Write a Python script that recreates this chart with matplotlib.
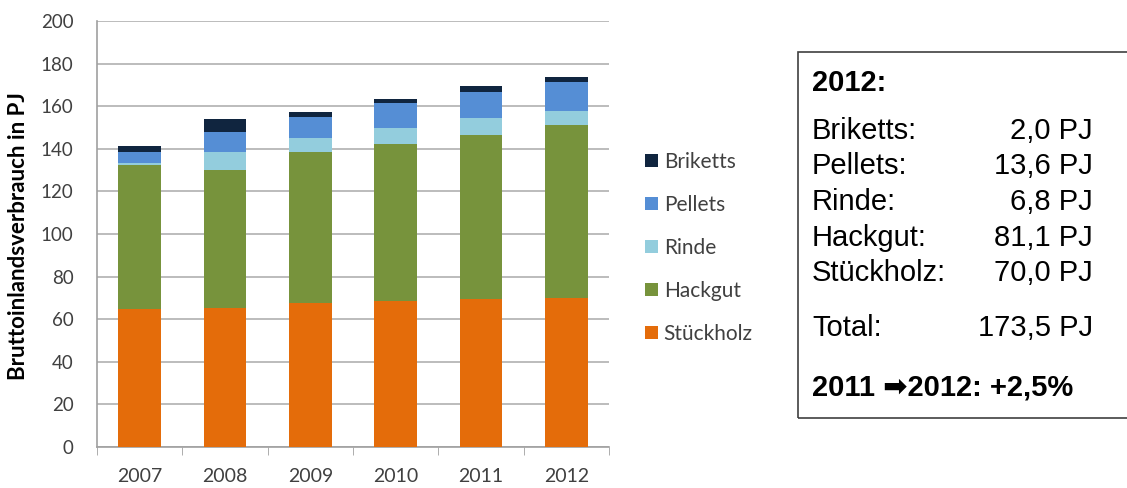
import matplotlib.pyplot as plt
import matplotlib.patches as mpatches
import numpy as np

years = ['2007', '2008', '2009', '2010', '2011', '2012']
stueckholz = [65.0, 65.4, 67.5, 68.5, 69.5, 70.0]
hackgut = [67.6, 64.6, 71.0, 73.8, 77.0, 81.1]
rinde = [0.5, 8.6, 6.6, 7.6, 7.8, 6.8]
pellets = [5.3, 9.1, 9.6, 11.5, 12.4, 13.6]
briketts = [3.0, 6.3, 2.8, 2.1, 2.6, 2.0]

series = [('Stückholz', stueckholz, '#E46C0A'),
          ('Hackgut', hackgut, '#77933C'),
          ('Rinde', rinde, '#93CDDD'),
          ('Pellets', pellets, '#558ED5'),
          ('Briketts', briketts, '#10253F')]

box_title = '2012:'
box_rows = [('Briketts:', '2,0 PJ'), ('Pellets:', '13,6 PJ'), ('Rinde:', '6,8 PJ'),
            ('Hackgut:', '81,1 PJ'), ('Stückholz:', '70,0 PJ')]
box_total = ('Total:', '173,5 PJ')
box_change = '2011 \u27a12012: +2,5%'

W, H = 1127, 488
fig = plt.figure(figsize=(W / 100, H / 100), dpi=100)
ax = fig.add_axes([97 / W, 1 - 447 / H, 512 / W, 426 / H])

x = np.arange(len(years))
bottom = np.zeros(len(years))
for name, vals, col in series:
    ax.bar(x, vals, width=0.5, bottom=bottom, color=col, label=name, zorder=3)
    bottom += np.array(vals)

ax.set_xlim(-0.5, len(years) - 0.5)
ax.set_ylim(0, 200)
ax.set_yticks(range(0, 201, 20))
ax.set_xticks(x)
ax.set_xticklabels(years)
ax.set_xticks(np.arange(-0.5, len(years), 1), minor=True)
ax.tick_params(axis='x', which='major', length=0, pad=15, labelsize=14, labelcolor='#404040')
ax.tick_params(axis='x', which='minor', length=6, color='#a0a0a0', direction='out')
ax.tick_params(axis='y', length=0, pad=17, labelsize=13.5, labelcolor='#404040')
for lab in ax.get_xticklabels() + ax.get_yticklabels():
    lab.set_family('Lato')
ax.grid(axis='y', color='#b0b0b0', linewidth=1.2, zorder=0)
for s in ['top', 'right']:
    ax.spines[s].set_visible(False)
ax.spines['left'].set_color('#a0a0a0')
ax.spines['bottom'].set_color('#a0a0a0')
ax.spines['left'].set_linewidth(1.2)
ax.spines['bottom'].set_linewidth(1.2)
ax.set_ylabel('Bruttoinlandsverbrauch in PJ', fontsize=16, fontweight='bold',
              family='Lato')
ax.yaxis.set_label_coords(29 / W, 1 - 236 / H, transform=fig.transFigure)

h, l = ax.get_legend_handles_labels()
leg = fig.legend(h[::-1], l[::-1], loc='center left', bbox_to_anchor=(645 / W, 1 - 248 / H),
                 frameon=False, prop={'family': 'Lato', 'size': 15},
                 handlelength=0.6, handleheight=0.6, handletextpad=0.3,
                 labelspacing=1.1, borderpad=0, borderaxespad=0)
for t in leg.get_texts():
    t.set_color('#404040')

# text box
fig.patches.append(mpatches.Rectangle((798 / W, 1 - 418 / H), 340 / W, 366 / H,
                                      transform=fig.transFigure, fill=False,
                                      edgecolor='#404040', linewidth=1.2))
fam = ['Liberation Sans', 'DejaVu Sans']
fs = 21
lx, rx = 812 / W, 1093 / W
fig.text(lx, 1 - 83 / H, box_title, fontsize=fs, fontweight='bold', family=fam, va='center')
for (lab, val), yy in zip(box_rows, [131, 166.5, 202.5, 238, 273]):
    fig.text(lx, 1 - yy / H, lab, fontsize=fs, family=fam, va='center')
    fig.text(rx, 1 - yy / H, val, fontsize=fs, family=fam, va='center', ha='right')
fig.text(lx, 1 - 328 / H, box_total[0], fontsize=fs, family=fam, va='center')
fig.text(rx, 1 - 328 / H, box_total[1], fontsize=fs, family=fam, va='center', ha='right')
fig.text(lx, 1 - 388 / H, box_change, fontsize=fs, fontweight='bold', family=fam, va='center')

fig.savefig('out.png', dpi=100)
